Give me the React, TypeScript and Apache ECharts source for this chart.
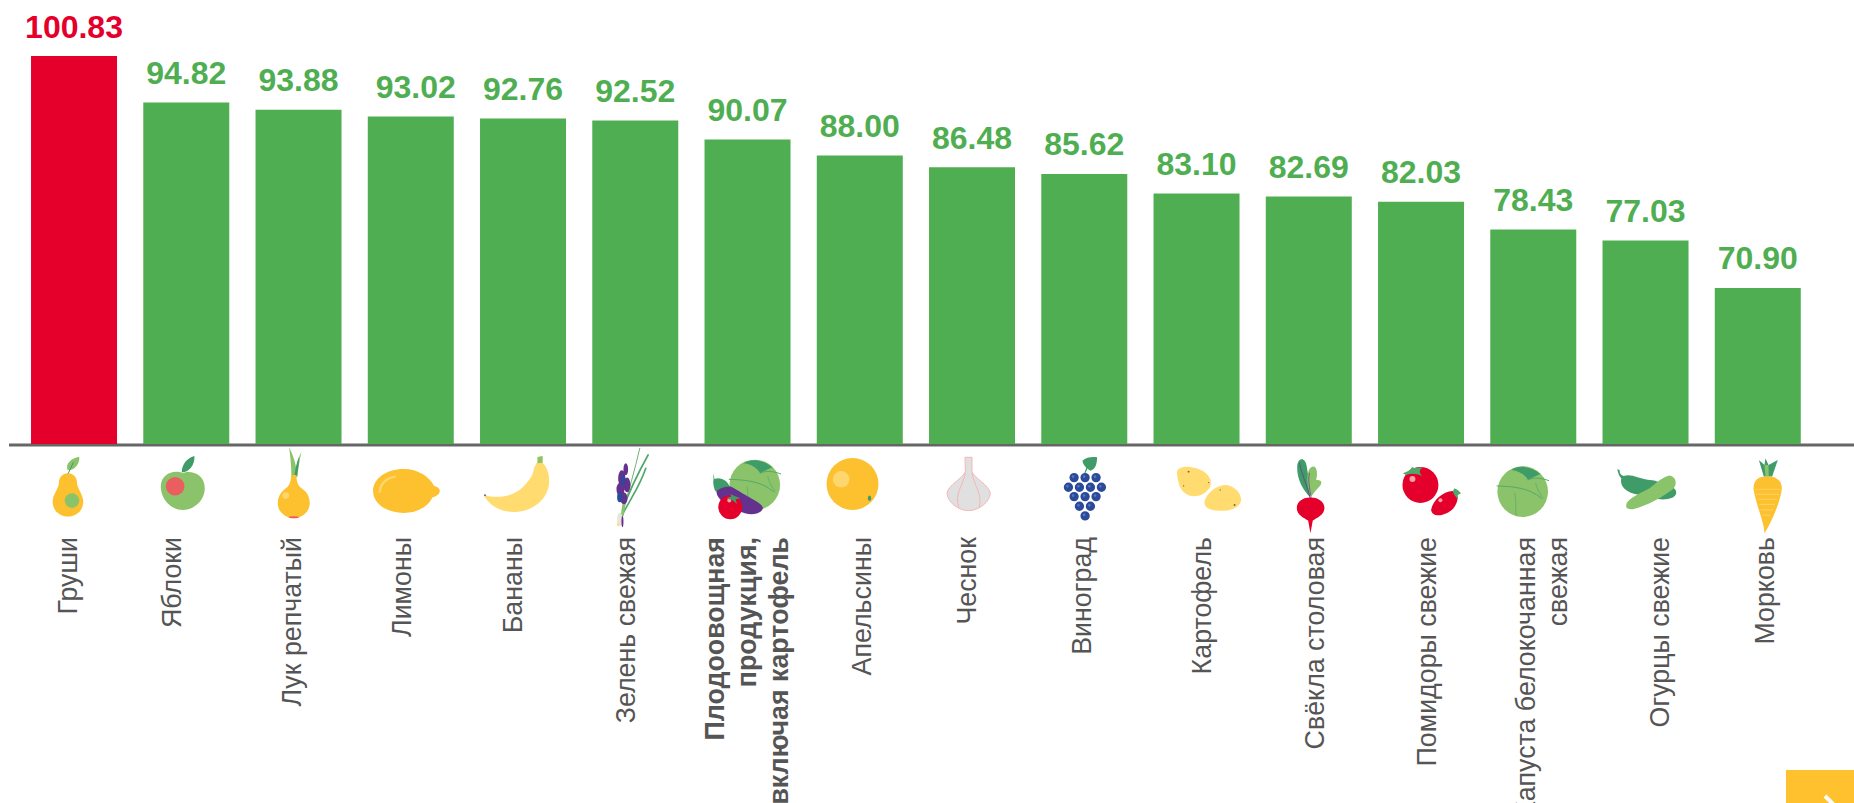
import React, { useEffect, useRef } from "react";
import * as echarts from "echarts";

const CATEGORIES = ["Груши","Яблоки","Лук репчатый","Лимоны","Бананы","Зелень свежая","Плодоовощная\nпродукция,\nвключая картофель","Апельсины","Чеснок","Виноград","Картофель","Свёкла столовая","Помидоры свежие","Капуста белокочанная\nсвежая","Огурцы свежие","Морковь"];
const VALUES = [100.83,94.82,93.88,93.02,92.76,92.52,90.07,88.0,86.48,85.62,83.1,82.69,82.03,78.43,77.03,70.9];
const HIGHLIGHT_INDEX = 0;
const BOLD_INDEX = 6;
const LABEL_DX = [-6,-14,-7,-9,-10,-9,-1,2,-5,-2,5,6,6,9,14,7];
const VALUE_LABEL_DX = [0,0,0,5,0,0,0,0,0,0,0,0,0,0,0,0];
const ICON_DX = [-6,-3.3,-4.5,-4,-6.4,-3.7,-1,-6.9,-2.9,0.9,12.6,2,10.5,-10.5,0.9,9.7];
const ICON_X0 = [204,549,882,1220,50,395,740,1059,1408,256,628,933,1295,219,590,953];
const Y_MIN = 50.77;
const Y_MAX = 100.83;

const RED = "#E4002B", GREEN = "#50AE52", TEXT = "#555555";
const YEL = "#FDC02F", PALE = "#FFDB70", LT = "#8BC36A", DK = "#3F9C68", PUR = "#65318E", BLU = "#2B4A9A", COR = "#EB5E60";
const FONT = "'Liberation Sans', Arial, sans-serif";

const c = (x: number, y: number, r: number) => `M${x - r} ${y}a${r} ${r} 0 1 0 ${2 * r} 0a${r} ${r} 0 1 0 ${-2 * r} 0Z`;
const e = (x: number, y: number, a: number, b: number) => `M${x - a} ${y}a${a} ${b} 0 1 0 ${2 * a} 0a${a} ${b} 0 1 0 ${-2 * a} 0Z`;
type Part = { d: string; fill?: string; stroke?: string; lw?: number; x?: number; y?: number };
const CABBAGE: Part[] = [
  { d: c(219, 185, 76), fill: LT },
  { d: "M185 120C205 106 240 106 272 132C258 138 245 145 235 150C225 132 205 122 185 120Z", fill: DK },
  { d: "M142 168C180 170 235 170 275 205", stroke: "#55A867", lw: 3 },
  { d: "M235 150C250 140 280 145 297 152", stroke: "#55A867", lw: 3 },
  { d: "M195 190C202 220 195 240 200 258", stroke: "#55A867", lw: 2 },
  { d: "M258 160C263 180 270 190 280 205", stroke: "#55A867", lw: 2 },
];
const GRAPE_PTS = [[223,143],[256,143],[289,143],[206,172],[239,172],[272,172],[305,172],[223,200],[256,200],[289,200],[239,229],[272,229],[256,258]];
const ICONS: Part[][] = [
  [
    { d: "M204 130C222 130 232 145 231 160C232 175 250 195 250 215C250 243 228 260 204 260C180 260 158 243 158 215C158 195 176 175 177 160C176 145 186 130 204 130Z", fill: YEL },
    { d: c(216, 212, 22), fill: LT },
    { d: "M203 120C195 100 215 84 238 80C240 100 225 122 203 120Z", fill: LT },
    { d: "M205 130L220 98", stroke: DK, lw: 3 },
  ],
  [
    { d: "M549 130C570 120 615 130 615 175C615 210 585 240 549 240C510 240 483 205 483 170C483 130 525 118 549 130Z", fill: LT },
    { d: c(526, 169, 28), fill: COR },
    { d: "M546 128C545 105 560 85 584 78C585 105 570 125 546 128Z", fill: DK },
  ],
  [
    { d: "M875 140C875 110 872 80 868 52C880 75 888 100 890 120C892 100 897 80 905 65C900 90 895 115 893 140Z", fill: LT },
    { d: "M884 140C886 115 892 95 898 80C898 105 893 125 892 140Z", fill: DK },
    { d: "M874 135L890 135C890 165 900 170 912 180C925 190 930 205 930 220C930 245 908 265 882 265C856 265 834 245 834 220C834 205 840 190 852 180C864 170 874 165 874 135Z", fill: YEL },
    { d: c(858, 197, 10), fill: "#FDD76E" },
    { d: e(882, 262, 15, 3), fill: COR },
  ],
  [
    { d: "M1212 117C1255 117 1290 140 1303 168C1315 170 1322 178 1320 185C1320 192 1310 200 1298 203C1285 232 1250 249 1212 249C1160 249 1120 220 1120 183C1120 146 1160 117 1212 117Z", fill: YEL },
    { d: "M1140 185C1143 160 1160 145 1185 140", stroke: "#FDD76E", lw: 7 },
  ],
  [
    { d: "M-46 195C-20 205 40 205 70 170C90 150 100 135 102 115L112 95L113 80L128 78L128 98C145 115 150 140 147 165C140 215 90 247 40 246C-5 245 -30 225 -46 200Z", fill: PALE },
    { d: "M113 100L113 82L128 78L128 98Z", fill: LT },
    { d: c(-45, 196, 3), fill: "#666666" },
  ],
  [
    { d: "M368 250C385 190 405 120 420 55", stroke: "#6FB27A", lw: 3 },
    { d: "M368 240C390 180 420 120 445 75", stroke: "#4FA86A", lw: 5 },
    { d: "M370 250C390 210 420 170 438 115", stroke: "#4FA86A", lw: 5 },
    { d: "M368 255L372 225", stroke: LT, lw: 9 },
    { d: e(360, 268, 8, 20), fill: "#E6E6DE" },
    { d: e(368, 275, 3, 17), fill: PUR },
    { d: e(355, 283, 3, 6), fill: PALE },
    { d: e(378, 118, 7, 18) + e(366, 145, 11, 24) + e(382, 165, 10, 22) + e(362, 178, 12, 20) + e(372, 205, 11, 18), fill: PUR },
    { d: e(360, 202, 8, 15) + e(370, 152, 6, 16), fill: BLU },
  ],
  [
    ...CABBAGE.map((p) => ({ ...p, x: 546, y: -20 })),
    { d: "M650 180C660 155 690 165 720 185C750 205 790 220 790 235C785 255 745 260 715 240C690 225 650 215 650 180Z", fill: PUR },
    { d: "M640 130L645 147C665 140 685 155 690 170C670 170 655 180 648 185C640 170 640 150 642 148Z", fill: DK },
    { d: c(692, 232, 36), fill: RED },
    { d: c(689, 212, 6), fill: "#F5A0A8" },
    { d: "M680 205L695 200L692 192L705 198L722 205L708 208L712 222L698 210Z", fill: DK },
  ],
  [
    { d: c(1059, 162, 78), fill: YEL },
    { d: c(1025, 148, 25), fill: "#FDD76E" },
    { d: e(1110, 205, 5, 8), fill: DK },
  ],
  [
    { d: "M1398 82L1418 82L1418 125C1425 145 1470 165 1473 190C1472 215 1440 242 1408 242C1375 242 1344 215 1343 190C1346 165 1392 145 1398 125Z", fill: "#E0E0E0", stroke: "#F5B5B5", lw: 3 },
    { d: "M1398 130C1390 170 1365 190 1378 232", stroke: "#F5B5B5", lw: 3 },
    { d: "M1418 130C1425 170 1450 190 1440 232", stroke: "#F5B5B5", lw: 3 },
  ],
  [
    { d: "M265 105L256 128", stroke: DK, lw: 4 },
    { d: "M248 92C260 80 280 80 292 82C292 105 285 120 272 122C260 115 250 105 248 92Z", fill: DK },
    { d: GRAPE_PTS.map(([x, y]) => c(x, y, 14)).join(""), fill: BLU },
    { d: GRAPE_PTS.map(([x, y]) => c(x - 3, y - 3, 4)).join(""), fill: "#5578BC" },
  ],
  [
    { d: "M532 130C530 110 560 105 590 115C625 125 640 150 632 170C620 195 590 205 565 195C540 185 535 155 532 130Z", fill: PALE },
    { d: "M615 215C620 190 650 165 680 165C710 170 728 195 724 215C715 240 680 245 650 242C630 240 612 232 615 215Z", fill: PALE },
    { d: c(567, 125, 3) + c(627, 158, 2) + c(552, 168, 2) + c(662, 180, 2) + c(705, 225, 3), fill: "#6B6B55" },
  ],
  [
    { d: "M930 200C912 180 892 150 893 110C895 80 918 80 922 110C926 135 930 160 932 200Z", fill: DK },
    { d: "M935 200C922 170 918 125 935 112C952 102 956 130 950 150C970 148 970 162 955 175C945 185 940 195 935 200Z", fill: LT },
    { d: "M932 205C925 170 905 130 900 100", stroke: PUR, lw: 2 },
    { d: "M935 205C930 170 925 150 930 130", stroke: PUR, lw: 2 },
    { d: "M933 203C960 203 975 218 975 235C975 255 950 265 940 272L933 310L926 272C915 265 892 255 892 235C892 218 906 203 933 203Z", fill: RED },
  ],
  [
    { d: c(1263, 165, 54), fill: RED },
    { d: c(1239, 147, 9), fill: "#F5A0A8" },
    { d: "M1295 240C1300 210 1330 185 1360 183C1380 190 1378 215 1362 235C1345 255 1300 268 1295 240Z", fill: RED },
    { d: c(1323, 211, 6), fill: "#F5A0A8" },
    { d: "M1210 130C1225 125 1235 118 1238 110C1245 118 1250 112 1270 113C1255 120 1262 130 1268 138C1250 130 1235 130 1220 135Z", fill: "#4FA86A" },
    { d: "M1360 185L1365 175L1375 180L1385 190L1375 195L1375 208L1365 195Z", fill: "#4FA86A" },
  ],
  CABBAGE,
  [
    { d: "M503 118L510 120C510 132 515 135 522 138C545 130 565 145 600 150C625 150 640 165 660 170C685 175 685 195 670 203C640 215 610 205 570 195C530 190 510 170 515 145C510 140 505 130 503 118Z", fill: DK },
    { d: "M530 225C530 210 560 195 600 175C620 160 640 140 660 137C680 140 685 165 670 178C640 200 600 225 550 238C535 238 528 235 530 225Z", fill: LT },
  ],
  [
    { d: "M943 140L928 90L945 105L948 85L957 105L985 90L968 140Z", fill: DK },
    { d: "M948 140L945 105L957 105L958 140Z", fill: LT },
    { d: "M953 140C975 137 998 150 997 175C995 210 965 280 945 310C945 280 915 210 912 175C912 150 930 137 953 140Z", fill: YEL },
    { d: "M917 178H992M919 193H988M925 208H982M930 224H976M935 240H970M940 256H962", stroke: "#FDD76E", lw: 2.5 },
  ],
];

export default function App() {
  const ref = useRef<HTMLDivElement>(null);
  useEffect(() => {
    const chart = echarts.init(ref.current!, null, { renderer: "svg" });
    chart.setOption({
      animation: false,
      backgroundColor: "#fff",
      textStyle: { fontFamily: FONT },
      grid: { left: 17.9, top: 56, width: 1796, height: 388, containLabel: false },
      xAxis: {
        type: "category",
        data: CATEGORIES,
        axisLine: { show: false },
        axisTick: { show: false },
        axisLabel: { show: false },
      },
      yAxis: { type: "value", min: Y_MIN, max: Y_MAX, show: false, splitLine: { show: false } },
      series: [
        {
          type: "bar",
          barWidth: 86,
          data: VALUES.map((value, i) => ({
            value,
            itemStyle: { color: i === HIGHLIGHT_INDEX ? RED : GREEN },
            label: { color: i === HIGHLIGHT_INDEX ? RED : GREEN, offset: [VALUE_LABEL_DX[i], 0] },
          })),
          label: {
            show: true,
            position: "top",
            distance: 13.5,
            fontSize: 32,
            fontWeight: "bold",
            fontFamily: FONT,
            formatter: (p: any) => Number(p.value).toFixed(2),
          },
        },
        {
          type: "custom",
          silent: true,
          clip: false,
          data: CATEGORIES.map((_, i) => [i, Y_MIN]),
          encode: { x: 0, y: 1 },
          renderItem: (_p: any, api: any) => {
            const i = api.value(0);
            const pt = api.coord([i, Y_MIN]);
            return {
              type: "group",
              children: [
                {
                  type: "group",
                  x: pt[0] + ICON_DX[i],
                  y: pt[1] - 14,
                  scaleX: 1 / 3,
                  scaleY: 1 / 3,
                  children: [
                    {
                      type: "group",
                      x: -ICON_X0[i],
                      children: ICONS[i].map((p) => ({
                        type: "path",
                        x: p.x || 0,
                        y: p.y || 0,
                        shape: { pathData: p.d },
                        style: {
                          fill: p.fill || "none",
                          stroke: p.stroke || "none",
                          lineWidth: p.lw || 0,
                          lineCap: "round",
                        },
                      })),
                    },
                  ],
                },
                {
                  type: "text",
                  x: pt[0] + LABEL_DX[i],
                  y: pt[1] + 93,
                  rotation: Math.PI / 2,
                  style: {
                    text: CATEGORIES[i],
                    fontSize: 26.8,
                    fontFamily: FONT,
                    fontWeight: i === BOLD_INDEX ? "bold" : "normal",
                    lineHeight: 32,
                    fill: TEXT,
                    align: "right",
                    verticalAlign: "middle",
                  },
                },
              ],
            };
          },
        },
      ],
      graphic: [
        { type: "line", shape: { x1: 9, y1: 445, x2: 1854, y2: 445 }, style: { stroke: "#666666", lineWidth: 3 }, silent: true },
        { type: "rect", shape: { x: 1786, y: 770, width: 68, height: 33 }, style: { fill: "#FFC12D" }, silent: true },
        { type: "polyline", shape: { points: [[1825, 796], [1836, 807]] }, style: { stroke: "#fff", lineWidth: 4, fill: "none" }, silent: true },
      ],
    });
    return () => chart.dispose();
  }, []);
  return <div ref={ref} style={{ position: "fixed", left: 0, top: 0, width: 1854, height: 803, overflow: "hidden" }} />;
}
